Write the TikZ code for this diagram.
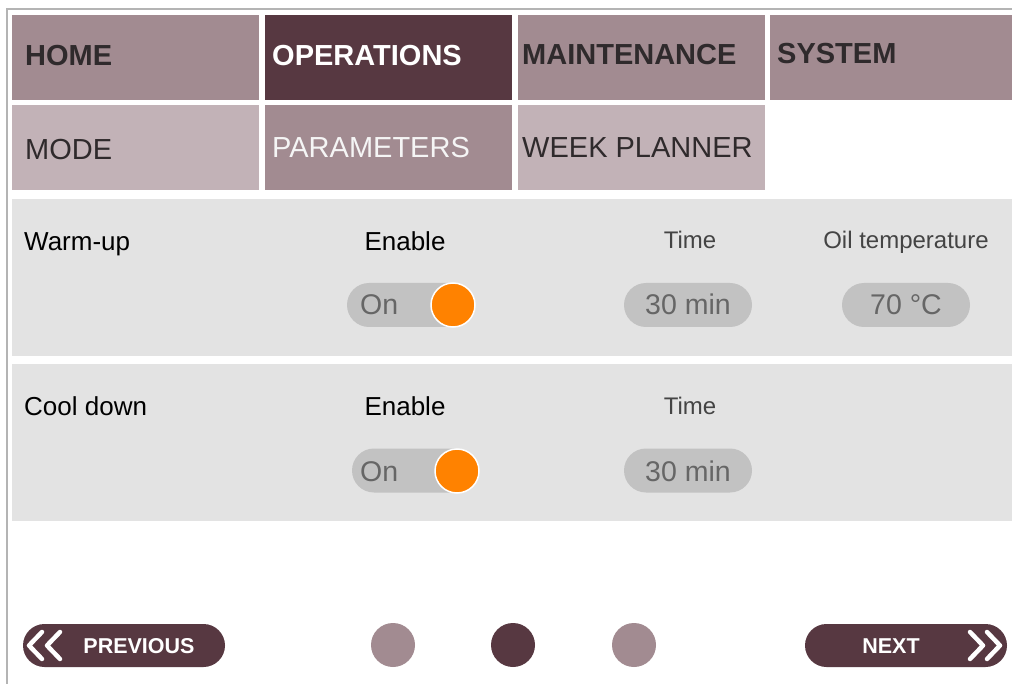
\documentclass[tikz,border=0pt]{standalone}
\usepackage{fontspec}
\setmainfont{Liberation Sans}
\definecolor{tabmid}{HTML}{A28B91}
\definecolor{tabdark}{HTML}{573841}
\definecolor{tablight}{HTML}{C2B2B7}
\definecolor{tabtext}{HTML}{2F2A2C}
\definecolor{panelbg}{HTML}{E3E3E3}
\definecolor{pillbg}{HTML}{C2C2C2}
\definecolor{pilltext}{HTML}{666666}
\definecolor{knob}{HTML}{FF8200}
\definecolor{framegray}{HTML}{B4B4B4}
\definecolor{labelgray}{HTML}{444444}
\tikzset{
  tabbox/.style={rectangle, anchor=north west, minimum width=247pt, minimum height=85pt, inner sep=0pt},
  boldtab/.style={anchor=base west, inner sep=0pt, font=\fontsize{29}{33}\selectfont\bfseries},
  plaintab/.style={anchor=base west, inner sep=0pt, font=\fontsize{29}{33}\selectfont},
  panel/.style={rectangle, anchor=north west, fill=panelbg, minimum width=1000pt, minimum height=157pt, inner sep=0pt},
  rowlabel/.style={anchor=base west, inner sep=0pt, font=\fontsize{26}{31}\selectfont, text=black},
  enlabel/.style={anchor=base, inner sep=0pt, font=\fontsize{26}{31}\selectfont, text=black},
  smalllabel/.style={anchor=base, inner sep=0pt, font=\fontsize{24}{28}\selectfont, text=labelgray},
  pill/.style={rectangle, rounded corners=22pt, fill=pillbg, minimum width=128pt, minimum height=44pt, inner sep=0pt},
  pilltxt/.style={anchor=base, inner sep=0pt, font=\fontsize{28.5}{32}\selectfont, text=pilltext},
  togglebar/.style={rectangle, rounded corners=22pt, fill=pillbg, minimum width=123pt, minimum height=44pt, inner sep=0pt},
  knobdot/.style={circle, fill=knob, draw=white, line width=1.5pt, minimum size=44pt, inner sep=0pt},
  navbtn/.style={rectangle, rounded corners=21.5pt, fill=tabdark, minimum width=202pt, minimum height=43pt, inner sep=0pt},
  navtxt/.style={anchor=base, inner sep=0pt, font=\fontsize{21.5}{25}\selectfont\bfseries, text=white},
  chev/.style={draw=white, line width=4.5pt, line cap=round, line join=round},
  pagedot/.style={circle, minimum size=44pt, inner sep=0pt}
}
\begin{document}
\begin{tikzpicture}[x=1pt,y=-1pt]
\useasboundingbox (0,0) rectangle (1012,684);
\fill[white] (0,0) rectangle (1012,684);
% frame
\draw[framegray, line width=2pt] (6,9) -- (1012,9);
\draw[framegray, line width=2pt] (7,9) -- (7,684);
% top tabs
\node[tabbox, fill=tabmid] (home) at (12,15) {};
\node[tabbox, fill=tabdark] (ops) at (265,15) {};
\node[tabbox, fill=tabmid] (maint) at (518,15) {};
\node[tabbox, fill=tabmid, minimum width=242pt] (sys) at (770,15) {};
\node[boldtab, text=tabtext] (homet) at (25,66) {HOME};
\node[boldtab, text=white] (opst) at (272,66) {OPERATIONS};
\node[boldtab, text=tabtext] (maintt) at (522,65) {MAINTENANCE};
\node[boldtab, text=tabtext] (syst) at (777,64) {SYSTEM};
% second row
\node[tabbox, fill=tablight] (mode) at (12,105) {};
\node[tabbox, fill=tabmid] (param) at (265,105) {};
\node[tabbox, fill=tablight] (week) at (518,105) {};
\node[plaintab, text=tabtext] (modet) at (25,160) {MODE};
\node[plaintab, text=white!96!black] (paramt) at (272,158) {PARAMETERS};
\node[plaintab, text=tabtext] (weekt) at (522,158) {WEEK PLANNER};
% panel 1
\node[panel] (p1) at (12,199) {};
\node[rowlabel] (warm) at (24,251) {Warm-up};
\node[enlabel] (en1) at (405,251) {Enable};
\node[smalllabel] (time1) at (690,249) {Time};
\node[smalllabel] (oil) at (906,249) {Oil temperature};
\node[togglebar] (tg1) at (408.5,305) {};
\node[pilltxt, anchor=base west] (on1) at (360,315) {On};
\node[knobdot] (k1) at (453,305) {};
\node[pill] (tp1) at (688,305) {};
\node[pilltxt] (tp1t) at (688,315) {30 min};
\node[pill] (op1) at (906,305) {};
\node[pilltxt] (op1t) at (906,315) {70 °C};
% panel 2
\node[panel] (p2) at (12,364) {};
\node[rowlabel] (cool) at (24,416) {Cool down};
\node[enlabel] (en2) at (405,416) {Enable};
\node[smalllabel] (time2) at (690,414) {Time};
\node[togglebar] (tg2) at (413.5,470.5) {};
\node[pilltxt, anchor=base west] (on2) at (360,481) {On};
\node[knobdot] (k2) at (457,471) {};
\node[pill] (tp2) at (688,470.5) {};
\node[pilltxt] (tp2t) at (688,481) {30 min};
% navigation
\node[navbtn] (prev) at (124,645.5) {};
\node[navtxt] (prevt) at (139,653) {PREVIOUS};
\draw[chev] (42,632) -- (29,645.5) -- (42,659);
\draw[chev] (60,632) -- (47,645.5) -- (60,659);
\node[navbtn] (next) at (906,645.5) {};
\node[navtxt] (nextt) at (891,653) {NEXT};
\draw[chev] (970,632) -- (983,645.5) -- (970,659);
\draw[chev] (987,632) -- (1000,645.5) -- (987,659);
\node[pagedot, fill=tabmid] (d1) at (393,645) {};
\node[pagedot, fill=tabdark] (d2) at (513,645) {};
\node[pagedot, fill=tabmid] (d3) at (634,645) {};
\end{tikzpicture}
\end{document}
